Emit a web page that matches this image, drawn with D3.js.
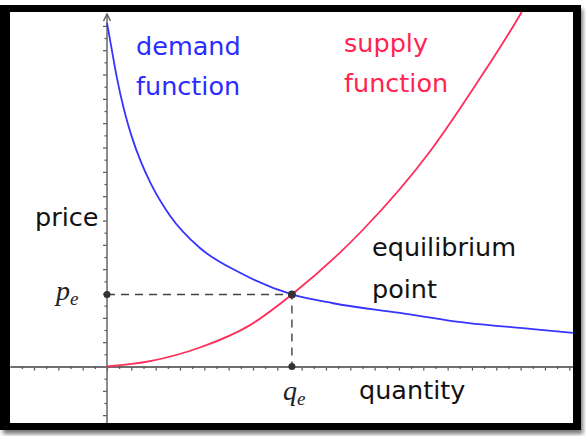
<!DOCTYPE html>
<html>
<head>
<meta charset="utf-8">
<script src="https://d3js.org/d3.v7.min.js"></script>
<style>
  body { margin: 0; background: #fff; }
  svg { display: block; }
</style>
</head>
<body>
<svg id="chart" width="586" height="436"></svg>
<script>
// demand curve (quantity, price)
let demandQ = [0, 0.2, 0.41, 0.7, 1.0, 1.4, 1.77, 2.59, 3.82, 5.47, 7.6, 9.29, 12.04, 14.8, 17.5, 19.15];
let demandP = [14.12, 13.0, 11.85, 10.55, 9.5, 8.4, 7.58, 6.2, 4.87, 3.85, 2.96, 2.6, 2.2, 1.79, 1.54, 1.38];
// supply curve
let supplyQ = [0, 1.77, 3.82, 5.88, 7.6, 10.5, 13.32, 15.17, 17.02, 17.4];
let supplyP = [0, 0.22, 0.78, 1.7, 2.96, 5.6, 8.9, 11.6, 14.53, 15.2];
// equilibrium
let eqQ = 7.6, eqP = 2.96;

let svg = d3.select("#chart");

// frame with shadow
let defs = svg.append("defs");
defs.append("filter").attr("id", "blur")
    .append("feGaussianBlur").attr("stdDeviation", 2);
defs.append("clipPath").attr("id", "inner")
    .append("rect").attr("x", 10).attr("y", 12).attr("width", 563).attr("height", 411);

svg.append("rect")
    .attr("x", 3).attr("y", 9).attr("width", 580).attr("height", 425)
    .attr("fill", "#777").attr("filter", "url(#blur)");
svg.append("rect")
    .attr("x", 0).attr("y", 5).attr("width", 581).attr("height", 425)
    .attr("fill", "#000");
svg.append("rect")
    .attr("x", 10).attr("y", 12).attr("width", 563).attr("height", 411)
    .attr("fill", "#fff");

let x = d3.scaleLinear().domain([-3.987, 19.153]).range([10, 573]);
let y = d3.scaleLinear().domain([-2.322, 14.570]).range([423, 12]);

let g = svg.append("g").attr("clip-path", "url(#inner)");

// x axis with alternating ticks
let xMinor = d3.range(-3.5, 19.1, 1);
let xMajor = d3.range(-3, 19.1, 1);
let axX = g.append("g").attr("transform", "translate(0," + y(0) + ")");
axX.append("g").call(d3.axisBottom(x).tickValues(xMajor).tickSize(4).tickSizeOuter(0).tickFormat(""));
axX.append("g").call(d3.axisBottom(x).tickValues(xMinor).tickSize(2.5).tickSizeOuter(0).tickFormat(""));
axX.selectAll("path.domain").attr("stroke", "#666").attr("stroke-width", 1.5);
axX.selectAll(".tick line").attr("stroke", "#555").attr("stroke-width", 1.2);

// y axis with alternating ticks
let yMinor = d3.range(-1.5, 14.1, 1);
let yMajor = d3.range(-2, 14.1, 1).filter(v => v != 0);
let axY = g.append("g").attr("transform", "translate(" + x(0) + ",0)");
axY.append("g").call(d3.axisLeft(y).tickValues(yMajor).tickSize(4).tickSizeOuter(0).tickFormat(""));
axY.append("g").call(d3.axisLeft(y).tickValues(yMinor).tickSize(2.5).tickSizeOuter(0).tickFormat(""));
axY.selectAll("path.domain").remove();
axY.selectAll(".tick line").attr("stroke", "#555").attr("stroke-width", 1.2);

//y axis line and arrow
g.append("line")
    .attr("x1", x(0)).attr("x2", x(0))
    .attr("y1", y.range()[0]).attr("y2", 16)
    .attr("stroke", "#666").attr("stroke-width", 1.5);
g.append("path")
    .attr("d", "M" + (x(0) - 3.5) + ",21 L" + x(0) + ",14 L" + (x(0) + 3.5) + ",21")
    .attr("fill", "none").attr("stroke", "#555").attr("stroke-width", 1.3);

// dashed guides
g.append("path")
    .attr("d", "M" + x(0) + "," + y(eqP) + " H" + x(eqQ) + " V" + y(0))
    .attr("fill", "none").attr("stroke", "#444").attr("stroke-width", 1.4)
    .attr("stroke-dasharray", "8,6");

let line = d3.line()
    .x(d => x(d[0]))
    .y(d => y(d[1]))
    .curve(d3.curveMonotoneX);

g.append("path")
    .datum(supplyQ.map((q, i) => [q, supplyP[i]]))
    .attr("d", line)
    .attr("fill", "none").attr("stroke", "#ff2d5a").attr("stroke-width", 1.8);

g.append("path")
    .datum(demandQ.map((q, i) => [q, demandP[i]]))
    .attr("d", line)
    .attr("fill", "none").attr("stroke", "#3535ff").attr("stroke-width", 1.8);

// points
[[0, eqP], [eqQ, eqP], [eqQ, 0]].forEach(p =>
    g.append("circle")
        .attr("cx", x(p[0])).attr("cy", y(p[1]))
        .attr("r", p[0] == eqQ && p[1] == eqP ? 4 : 3.5)
        .attr("fill", "#333")
);

// labels
function label(txt, lx, ly, color) {
    svg.append("text")
        .attr("x", lx).attr("y", ly)
        .style("font-family", "'DejaVu Sans', sans-serif")
        .style("font-size", "25.5px")
        .style("fill", color)
        .text(txt);
}
label("demand", 136, 55, "#2b2bff");
label("function", 136, 95, "#2b2bff");
label("supply", 344, 52, "#ff2450");
label("function", 344, 92, "#ff2450");
label("price", 35, 226, "#111");
label("equilibrium", 372, 256, "#111");
label("point", 372, 298, "#111");
label("quantity", 359, 399, "#111");

// math labels p_e and q_e
function mathLabel(base, sub, lx, ly) {
    let t = svg.append("text")
        .attr("x", lx).attr("y", ly)
        .style("font-family", "'Liberation Serif', 'DejaVu Serif', serif")
        .style("font-style", "italic")
        .style("fill", "#222");
    t.append("tspan").style("font-size", "28px").text(base);
    t.append("tspan").style("font-size", "19px").attr("dy", 5).text(sub);
}
mathLabel("p", "e", 56, y(eqP) + 6);
mathLabel("q", "e", x(eqQ) - 9, 400);
</script>
</body>
</html>
